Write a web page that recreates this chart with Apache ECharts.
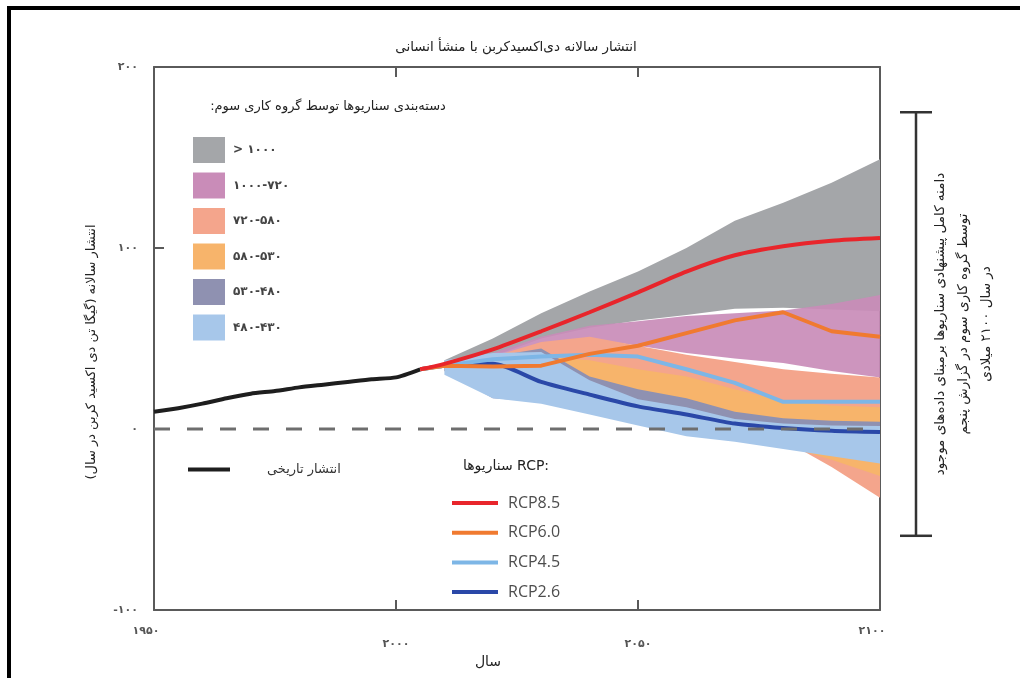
<!DOCTYPE html>
<html><head><meta charset="utf-8">
<script src="https://cdn.jsdelivr.net/npm/echarts@6/dist/echarts.min.js"></script>
<style>html,body{margin:0;padding:0;background:#fff}#c{width:1020px;height:678px}</style>
</head><body><div id="c"></div>
<script>
// ---- data ----
const histYears = [1950, 1955, 1960, 1965, 1970, 1975, 1980, 1985, 1990, 1995, 2000, 2005];
const histValues = [9.5, 11.5, 14, 17, 19.5, 21, 23, 24.5, 26, 27.5, 28.5, 33];

const rcpYears = [2005, 2010, 2020, 2030, 2040, 2050, 2060, 2070, 2080, 2090, 2100];
const rcp85 = [33, 36, 44, 54, 64.5, 75.5, 87, 96, 101, 104, 105.5];
const rcp60 = [33, 35, 34.5, 35, 41.5, 46, 53, 60, 64.5, 54, 51];
const rcp45 = [33, 35, 38.5, 40, 41, 40, 33, 25.5, 15, 15, 15];
const rcp26 = [33, 35, 36, 26, 19, 12.5, 8, 3, 0.5, -1, -1.7];

const bandYears = [2010, 2020, 2030, 2040, 2050, 2060, 2070, 2080, 2090, 2100];
const grayLo   = [35, 40, 50, 56, 60, 63, 66.5, 67, 66, 65];
const grayHi   = [38, 50, 64, 76, 87, 100, 115, 125, 136, 149];
const pinkLo   = [34, 38, 47, 50, 46, 42, 39, 36.5, 32, 28.5];
const pinkHi   = [37, 42, 51, 57, 59.5, 62.5, 64, 65.5, 69, 74];
const salmonLo = [32, 28, 22, 15, 10, 5, 0, -6, -21, -38];
const salmonHi = [37, 40, 48, 51, 46, 41, 37, 33, 30.5, 28.5];
const orangeLo = [32, 26, 18, 10, 6, 2, -2, -9, -17, -26];
const orangeHi = [36, 37, 40, 38, 33, 29, 22, 15.5, 13, 12];
const pgLo     = [32, 17, 15, 13, 10, 6, 2, 0, -1, -2];
const pgHi     = [37, 40, 44.5, 29, 22, 17, 9.5, 6, 4.5, 4];
const blueLo   = [30, 17, 14, 8, 2, -4, -7, -11, -15, -19];
const blueHi   = [38, 42, 42.5, 27, 16.5, 12, 5.5, 3, 2, 1.6];

const bandNames = ['> ۱۰۰۰', '۱۰۰۰\u200E-\u200E۷۲۰', '۷۲۰\u200E-\u200E۵۸۰', '۵۸۰\u200E-\u200E۵۳۰', '۵۳۰\u200E-\u200E۴۸۰', '۴۸۰\u200E-\u200E۴۳۰'];
const rcpNames = ['RCP8.5', 'RCP6.0', 'RCP4.5', 'RCP2.6'];
const histName = 'انتشار تاریخی';
const bracketRange = [-59, 175];

// ---- helpers ----
const FA = '۰۱۲۳۴۵۶۷۸۹';
const toFa = v => String(v).replace(/\d/g, d => FA[+d]);
const pairs = (xs, ys) => xs.map((x, i) => [x, ys[i]]);
const PF = '"DejaVu Sans", sans-serif';
const AX = '#5a5a5a';

function band(name, lo, hi, color, opacity) {
  return {
    type: 'custom', name: name, silent: true, z: 2,
    itemStyle: { color: color },
    data: bandYears.map((y, i) => [y, lo[i], hi[i]]),
    encode: { x: 0, y: [1, 2] },
    renderItem: function (params, api) {
      if (params.dataIndex !== 0) return null;
      const pts = [];
      for (let i = 0; i < bandYears.length; i++) pts.push(api.coord([bandYears[i], hi[i]]));
      for (let i = bandYears.length - 1; i >= 0; i--) pts.push(api.coord([bandYears[i], lo[i]]));
      return { type: 'polygon', shape: { points: pts }, style: { fill: color, opacity: opacity } };
    }
  };
}
function line(name, xs, ys, color, smooth) {
  return {
    type: 'line', name: name, data: pairs(xs, ys), symbol: 'none', smooth: smooth,
    color: color, itemStyle: { color: color },
    lineStyle: { color: color, width: 4 }, z: 4, silent: true
  };
}

const chart = echarts.init(document.getElementById('c'), null, { renderer: 'canvas' });

const axisCommon = () => ({
  axisLine: { show: true, onZero: false, lineStyle: { color: AX, width: 2 } },
  axisTick: { show: true, inside: true, length: 10, lineStyle: { color: AX, width: 2 } },
  splitLine: { show: false }
});

chart.setOption({
  animation: false,
  backgroundColor: '#fff',
  grid: { left: 154, right: 140, top: 67, bottom: 68 },
  xAxis: [
    Object.assign({
      type: 'value', min: 1950, max: 2100, interval: 50, position: 'bottom',
      axisLabel: {
        margin: 16, color: '#555', fontFamily: PF, fontSize: 11, fontWeight: 'bold',
        formatter: v => (v === 1950 || v === 2100) ? '{a|' + toFa(v) + '}' : '{b|' + toFa(v) + '}',
        rich: { a: { padding: [0, 16, 0, 0] }, b: { padding: [13, 0, 0, 0] } }
      }
    }, axisCommon()),
    Object.assign({ type: 'value', min: 1950, max: 2100, interval: 50, position: 'top', axisLabel: { show: false } }, axisCommon())
  ],
  yAxis: [
    Object.assign({
      type: 'value', min: -100, max: 200, interval: 100, position: 'left',
      axisLabel: { margin: 16, color: '#555', fontFamily: PF, fontSize: 11, fontWeight: 'bold', formatter: v => toFa(v) }
    }, axisCommon()),
    Object.assign({ type: 'value', min: -100, max: 200, interval: 100, position: 'right', axisLabel: { show: false } }, axisCommon())
  ],
  legend: [
    {
      data: bandNames.map(n => ({ name: n, icon: 'rect' })), orient: 'vertical',
      left: 188, top: 132, itemWidth: 32, itemHeight: 26, itemGap: 9.5, selectedMode: false,
      itemStyle: { borderWidth: 0 },
      textStyle: { fontFamily: PF, fontSize: 12, fontWeight: 'bold', color: '#444', padding: [0, 0, 0, 3] }
    },
    {
      data: [{ name: histName, icon: 'rect' }], left: 183, top: 458, itemWidth: 42, itemHeight: 4,
      selectedMode: false, itemStyle: { borderWidth: 0 },
      textStyle: { fontFamily: PF, fontSize: 13, color: '#333', padding: [0, 0, 0, 32] }
    },
    {
      data: rcpNames.map(n => ({ name: n, icon: 'rect' })), orient: 'vertical',
      left: 447, top: 490, itemWidth: 46, itemHeight: 4, itemGap: 13.7, selectedMode: false,
      itemStyle: { borderWidth: 0 },
      textStyle: { fontFamily: '"Open Sans", sans-serif', fontSize: 16, lineHeight: 16, color: '#4d4d4d', padding: [0, 0, 0, 5] }
    }
  ],
  series: [
    band(bandNames[0], grayLo, grayHi, '#a4a6a9', 1),
    band(bandNames[1], pinkLo, pinkHi, '#c98cb8', 0.92),
    band(bandNames[2], salmonLo, salmonHi, '#f4a58c', 1),
    band(bandNames[3], orangeLo, orangeHi, '#f7b46b', 1),
    band(bandNames[4], pgLo, pgHi, '#8f91b1', 1),
    band(bandNames[5], blueLo, blueHi, '#a7c7ea', 1),
    {
      type: 'line', name: 'zero', data: [[1950, 0], [2100, 0]], symbol: 'none', silent: true, z: 6,
      lineStyle: { color: '#6e6e6e', width: 3, type: [16, 17] }
    },
    line(histName, histYears, histValues, '#1e1e1e', 0.2),
    line(rcpNames[3], rcpYears, rcp26, '#2a48a8', 0.25),
    line(rcpNames[2], rcpYears, rcp45, '#7db6e6', false),
    line(rcpNames[1], rcpYears, rcp60, '#f07a30', false),
    line(rcpNames[0], rcpYears, rcp85, '#e8252b', 0.25)
  ]
});

const yTop = chart.convertToPixel({ yAxisIndex: 0 }, bracketRange[1]);
const yBot = chart.convertToPixel({ yAxisIndex: 0 }, bracketRange[0]);
const yMid = (yTop + yBot) / 2;
const BX = 916;
const txt = (x, y, text, size, rot) => ({
  type: 'text', x: x, y: y, rotation: rot || 0, silent: true,
  style: { text: text, font: size + 'px ' + PF, fill: '#222', align: 'center', verticalAlign: 'middle' }
});

chart.setOption({
  graphic: [
    { type: 'line', silent: true, shape: { x1: 9, y1: 8, x2: 1020, y2: 8 }, style: { stroke: '#000', lineWidth: 4 } },
    { type: 'line', silent: true, shape: { x1: 9, y1: 6, x2: 9, y2: 678 }, style: { stroke: '#000', lineWidth: 4 } },
    txt(516, 47, '\u200Fانتشار سالانه دی\u200Cاکسیدکربن با منشأ انسانی\u200F', 13.5),
    txt(328, 107, '\u200Fدسته\u200Cبندی سناریوها توسط گروه کاری سوم:\u200F', 13),
    txt(506, 466, 'سناریوها RCP:', 14),
    txt(92, 352, '\u200Fانتشار سالانه (گیگا تن دی اکسید کربن در سال)\u200F', 13, Math.PI / 2),
    txt(488, 662, 'سال', 14),
    { type: 'line', silent: true, shape: { x1: BX, y1: yTop, x2: BX, y2: yBot }, style: { stroke: '#333', lineWidth: 2.5 } },
    { type: 'line', silent: true, shape: { x1: BX - 16, y1: yTop, x2: BX + 16, y2: yTop }, style: { stroke: '#333', lineWidth: 2.5 } },
    { type: 'line', silent: true, shape: { x1: BX - 16, y1: yBot, x2: BX + 16, y2: yBot }, style: { stroke: '#333', lineWidth: 2.5 } },
    txt(940, yMid, '\u200Fدامنه کامل پیشنهادی سناریوها برمبنای داده\u200Cهای موجود\u200F', 13.5, Math.PI / 2),
    txt(963, yMid, '\u200Fتوسط گروه کاری سوم در گزارش پنجم\u200F', 13.5, Math.PI / 2),
    txt(986, yMid, '\u200Fدر سال ۲۱۰۰ میلادی\u200F', 13.5, Math.PI / 2)
  ]
});
</script></body></html>
